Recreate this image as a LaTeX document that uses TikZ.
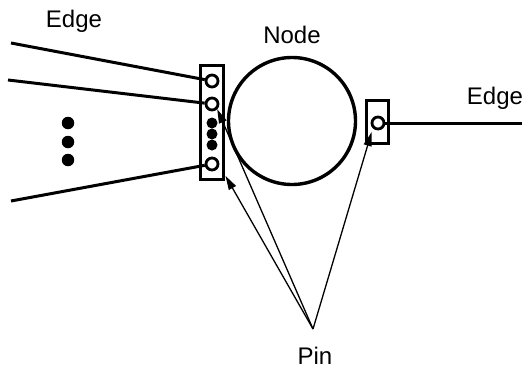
\documentclass[tikz,border=0pt]{standalone}
\usepackage{fontspec}
\setmainfont{Liberation Sans}
\usetikzlibrary{arrows.meta}
\begin{document}
\begin{tikzpicture}[x=1pt,y=-1pt,
  lbl/.style={font=\fontsize{24}{28}\selectfont, inner sep=0pt, anchor=base},
  pinbox/.style={draw, rectangle, line width=3pt, inner sep=0pt},
  port/.style={circle, draw, line width=2.8pt, minimum size=12pt, inner sep=0pt},
  pindot/.style={circle, fill, minimum size=11pt, inner sep=0pt},
  bigdot/.style={circle, fill, minimum size=12.5pt, inner sep=0pt},
  nodecircle/.style={circle, draw, line width=3.4pt, minimum size=127pt, inner sep=0pt},
  edgeline/.style={line width=3pt},
  pointer/.style={line width=1.3pt, -{Triangle[length=14pt,width=8pt]}}]
\useasboundingbox (0,0) rectangle (526,369);

% labels
\node[lbl] (edgeL) at (74,28) {Edge};
\node[lbl] (nodeT) at (292,44) {Node};
\node[lbl] (edgeR) at (495,104) {Edge};
\node[lbl] (pinT) at (315,364) {Pin};

% the node itself
\node[nodecircle] (node) at (292,121) {};

% left pin group
\node[pinbox, minimum width=23pt, minimum height=114pt] (lbox) at (212,122.5) {};
\node[port] (p1) at (212,81) {};
\node[port] (p2) at (212,104) {};
\node[pindot] (d1) at (212,123) {};
\node[pindot] (d2) at (212,134) {};
\node[pindot] (d3) at (212,145) {};
\node[port] (p3) at (212,164) {};

% right pin
\node[pinbox, minimum width=22pt, minimum height=43pt] (rbox) at (377.5,121.5) {};
\node[port] (p5) at (378,123) {};

% ellipsis between the incoming edges
\node[bigdot] (e1dot) at (68,123) {};
\node[bigdot] (e2dot) at (68,142) {};
\node[bigdot] (e3dot) at (68,160) {};

% edges
\coordinate (a1) at (11,43);
\coordinate (a2) at (8,80);
\coordinate (a3) at (11,201);
\coordinate (a5) at (522,123);
\draw[edgeline] (a1) -- (p1);
\draw[edgeline] (a2) -- (p2);
\draw[edgeline] (a3) -- (p3);
\draw[edgeline] (p5) -- (a5);

% pin pointers
\coordinate (apex) at (313,329);
\draw[pointer] (apex) -- (p2.south east);
\draw[pointer, shorten >=1pt] (apex) -- ([yshift=6pt]lbox.south east);
\draw[pointer, shorten >=4pt] (apex) -- (p5.south west);
\end{tikzpicture}
\end{document}
